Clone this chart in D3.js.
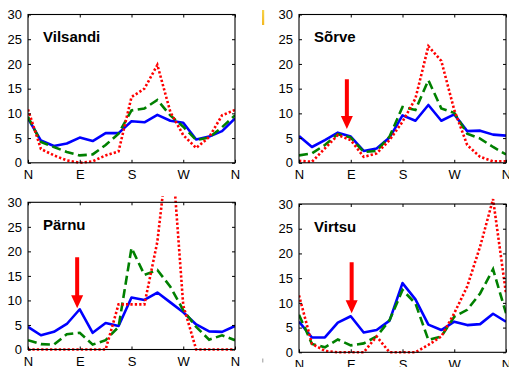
<!DOCTYPE html>
<html><head><meta charset="utf-8">
<script src="https://cdn.jsdelivr.net/npm/d3@7"></script>
<style>
html,body{margin:0;padding:0;background:#fff;}
svg{display:block;font-family:"Liberation Sans",Arial,Helvetica,sans-serif;}
</style></head>
<body>
<svg id="chart" width="509" height="367"></svg>
<script>
// ---- data ----
const directions = ["N","E","S","W","N"];
const directionIndex = [0,4,8,12,16];
const yTicks = [0,5,10,15,20,25,30];
const stations = ["Vilsandi","Sõrve","Pärnu","Virtsu"];

const vilsandiBlue  = [9.0,4.5,3.4,3.9,5.1,4.4,6.0,6.0,8.4,8.2,9.7,8.5,8.1,4.7,5.3,6.4,9.0];
const vilsandiGreen = [9.3,4.2,3.2,2.2,1.5,1.7,3.6,5.9,10.6,11.0,12.7,9.6,7.3,4.6,5.1,7.2,9.6];
const vilsandiRed   = [10.8,2.8,1.5,0.5,0.0,0.3,1.5,2.3,13.3,15.0,19.8,10.3,5.6,3.0,5.2,9.6,10.7];

const sorveBlue  = [5.4,3.2,4.6,6.1,5.3,2.4,2.9,5.1,9.6,8.5,11.7,8.5,9.8,6.4,6.5,5.7,5.5];
const sorveGreen = [1.5,1.9,3.6,5.8,5.1,2.2,2.4,5.3,11.3,10.7,16.7,11.0,10.1,5.9,4.9,3.2,1.7];
const sorveRed   = [0.4,0.2,2.9,5.6,4.6,1.2,1.9,4.6,8.3,13.0,23.6,20.6,10.7,3.6,1.2,0.3,0.3];

const parnuBlue  = [4.6,2.9,3.6,5.2,8.2,3.4,5.4,4.8,10.6,10.1,11.6,9.6,7.6,5.1,3.7,3.6,4.8];
const parnuGreen = [1.9,1.1,1.0,3.1,3.4,1.0,1.9,4.6,20.7,15.2,16.2,12.8,8.0,4.6,2.0,2.9,1.9];
const parnuRed   = [0,0,0,0,0,0,0,9.2,9.2,9.2,22,45,9,0,0,0,0];

const virtsuBlue  = [6.2,3.0,3.0,6.0,7.3,4.0,4.5,6.4,14.0,10.7,5.6,4.5,6.2,5.5,5.7,7.8,6.2];
const virtsuGreen = [7.6,1.7,1.0,2.6,1.4,1.8,3.2,6.5,12.6,9.9,2.5,3.2,7.2,8.6,11.9,16.8,7.9];
const virtsuRed   = [11.5,1.7,0.3,0,0,0,3.2,0,0,0,1.5,3.2,7.9,13.3,21.4,31.0,11.9];

const blueSeries  = [vilsandiBlue, sorveBlue, parnuBlue, virtsuBlue];
const greenSeries = [vilsandiGreen, sorveGreen, parnuGreen, virtsuGreen];
const redSeries   = [vilsandiRed, sorveRed, parnuRed, virtsuRed];

// arrows: [panel, x index, top value, tip value]
const arrows = [[1,3.7,16.9,6.85],[2,3.8,18.8,8.4],[3,4.07,18.2,7.9]];

// ---- layout ----
const panels = [
  {left:28, top:14.5, right:235, bottom:162.8},
  {left:299, top:14.5, right:506, bottom:162.8},
  {left:28, top:202.3, right:235, bottom:349.5},
  {left:299, top:204, right:506, bottom:352.3}
];

const svg = d3.select("#chart");

// small stray marks of the original figure
const grad = svg.append("defs").append("linearGradient").attr("id","yg").attr("x1",0).attr("y1",0).attr("x2",0).attr("y2",1);
grad.append("stop").attr("offset","0%").attr("stop-color","#f7d24a");
grad.append("stop").attr("offset","100%").attr("stop-color","#f3b820");
svg.append("rect").attr("x",262).attr("y",10).attr("width",2.2).attr("height",15).attr("fill","url(#yg)");
svg.append("rect").attr("x",262.3).attr("y",358.5).attr("width",1).attr("height",4).attr("fill","#999");

panels.forEach((p,i)=>{
  const x = d3.scaleLinear().domain([0,16]).range([p.left,p.right]);
  const y = d3.scaleLinear().domain([0,30]).range([p.bottom,p.top]);
  const g = svg.append("g");

  const clipId = "clip"+i;
  svg.select("defs").append("clipPath").attr("id",clipId)
    .append("rect").attr("x",p.left).attr("y",p.top-6).attr("width",p.right-p.left).attr("height",p.bottom-p.top+8);

  const line = d3.line().x((d,k)=>x(k)).y(d=>y(d));
  const lg = g.append("g").attr("clip-path",`url(#${clipId})`);
  lg.append("path").datum(blueSeries[i]).attr("d",line)
    .attr("fill","none").attr("stroke","#0000ff").attr("stroke-width",2.6).attr("stroke-linejoin","round");
  lg.append("path").datum(greenSeries[i]).attr("d",line)
    .attr("fill","none").attr("stroke","#008000").attr("stroke-width",2.6).attr("stroke-dasharray","9,4.5");
  lg.append("path").datum(redSeries[i]).attr("d",line)
    .attr("fill","none").attr("stroke","#ff0000").attr("stroke-width",2.6).attr("stroke-dasharray","2.3,2.1");

  // axes
  const ax = g.append("g").attr("font-size",13);
  const bottomAxis = d3.axisBottom(x).tickValues(directionIndex).tickFormat((d,k)=>directions[k]).tickSize(-3).tickPadding(7);
  const leftAxis = d3.axisLeft(y).tickValues(yTicks).tickSize(-3).tickPadding(6);
  const topAxis = d3.axisTop(x).tickValues(directionIndex).tickFormat("").tickSize(-3);
  const rightAxis = d3.axisRight(y).tickValues(yTicks).tickFormat("").tickSize(-3);
  ax.append("g").attr("transform",`translate(0,${p.bottom})`).call(bottomAxis);
  ax.append("g").attr("transform",`translate(${p.left},0)`).call(leftAxis);
  ax.append("g").attr("transform",`translate(0,${p.top})`).call(topAxis);
  ax.append("g").attr("transform",`translate(${p.right},0)`).call(rightAxis);
  ax.selectAll(".domain").remove();
  ax.selectAll("text").attr("fill","#000").attr("font-family","'Liberation Sans',Arial,sans-serif").attr("font-size",13);
  ax.selectAll("line").attr("stroke","#000");
  g.append("rect").attr("x",p.left).attr("y",p.top).attr("width",p.right-p.left).attr("height",p.bottom-p.top)
    .attr("fill","none").attr("stroke","#000").attr("stroke-width",1.1);

  g.append("text").attr("x",p.left+15).attr("y",p.top+27.5).attr("font-size",15).attr("font-weight","bold")
    .attr("fill","#000").text(stations[i]);

  arrows.filter(a=>a[0]===i).forEach(a=>{
    const ax0 = x(a[1]), yt = y(a[2]), yp = y(a[3]);
    const hh = 13, hw = 6, sw = 2;
    g.append("path").attr("fill","#ff0000")
      .attr("d",`M${ax0-sw},${yt}L${ax0+sw},${yt}L${ax0+sw},${yp-hh}L${ax0+hw},${yp-hh}L${ax0},${yp}L${ax0-hw},${yp-hh}L${ax0-sw},${yp-hh}Z`);
  });
});
</script>
</body></html>
